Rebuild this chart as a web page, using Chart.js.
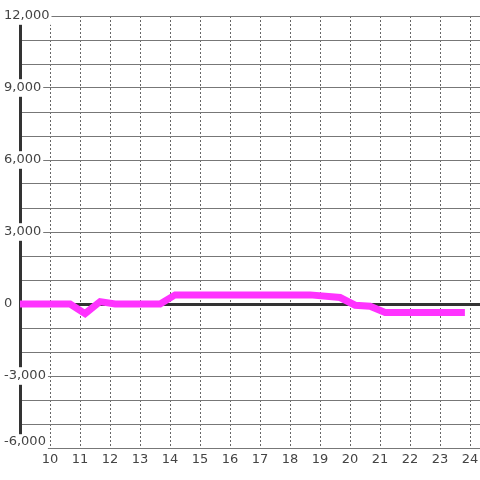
<!DOCTYPE html>
<html>
<head>
<meta charset="utf-8">
<style>
  html, body { margin: 0; padding: 0; background: #ffffff; }
  #wrap { width: 480px; height: 480px; }
</style>
<script src="https://cdn.jsdelivr.net/npm/chart.js@4/dist/chart.umd.min.js"></script>
</head>
<body>
<div id="wrap"><canvas id="c" width="480" height="480"></canvas></div>
<script>
// Data
const hours  = [8.83, 10.67, 11.17, 11.67, 12.17, 13.67, 14.17, 18.67, 19.67, 20.17, 20.67, 21.17, 23.83];
const values = [0,    0,     -400,  100,   0,     0,     380,   380,   270,   -50,   -90,   -350,  -350];
const xTickLabels = [10, 11, 12, 13, 14, 15, 16, 17, 18, 19, 20, 21, 22, 23, 24];
const yLabelValues = [-3000, 0, 3000, 6000, 9000, 12000];   // main axis labels
const yBottomLabel = -6000;                                  // bottom label, drawn a bit higher

const points = hours.map((h, i) => ({ x: h, y: values[i] }));

Chart.defaults.font.family = "'DejaVu Sans', sans-serif";
Chart.defaults.font.size = 13;
Chart.defaults.color = '#444444';

const fmt = (v) => v.toLocaleString('en-US');
const isLabel = (ctx, list) => !!(ctx.tick && list.includes(ctx.tick.value));

new Chart(document.getElementById('c'), {
  type: 'line',
  data: {
    datasets: [{
      data: points,
      borderColor: '#ff33ff',
      borderWidth: 7,
      pointRadius: 0,
      tension: 0,
      fill: false
    }]
  },
  options: {
    responsive: false,
    animation: false,
    devicePixelRatio: 1,
    layout: { autoPadding: false, padding: { left: 4, top: 16, right: 0, bottom: 8 } },
    plugins: { legend: { display: false }, tooltip: { enabled: false } },
    scales: {
      x: {
        type: 'linear',
        min: 9,
        max: 24.3333,
        afterFit: (s) => { s.height = 24; s.paddingLeft = 0; s.paddingRight = 0; },
        border: { display: false, dash: [2, 2] },
        grid: { color: '#666666', lineWidth: 1, drawTicks: false, borderDash: [2, 2] },
        ticks: {
          stepSize: 1,
          includeBounds: false,
          autoSkip: false,
          maxRotation: 0,
          padding: 4,
          color: '#444444',
          callback: (v) => xTickLabels.includes(v) ? String(v) : ''
        }
      },
      y: {
        type: 'linear',
        position: 'left',
        weight: 0,
        min: -6000,
        max: 12000,
        afterFit: (s) => { s.width = 16; s.paddingTop = 0; s.paddingBottom = 0; },
        border: { display: true, color: '#333333', width: 3 },
        grid: {
          drawTicks: false,
          color: (ctx) => (ctx.tick && ctx.tick.value === 0) ? '#333333' : '#777777',
          lineWidth: (ctx) => (ctx.tick && ctx.tick.value === 0) ? 3 : 1
        },
        ticks: {
          stepSize: 1000,
          autoSkip: false,
          mirror: true,
          crossAlign: 'near',
          padding: -16,
          color: '#444444',
          showLabelBackdrop: (ctx) => isLabel(ctx, yLabelValues),
          backdropColor: (ctx) => isLabel(ctx, yLabelValues) ? '#ffffff' : 'rgba(0,0,0,0)',
          backdropPadding: { top: 1, bottom: 1, left: 2, right: 2 },
          callback: (v) => yLabelValues.includes(v) ? fmt(v) : ''
        }
      },
      yBottom: {
        type: 'linear',
        position: 'left',
        weight: 5,
        display: true,
        min: -6000,
        max: 12000,
        afterFit: (s) => { s.width = 0; s.paddingTop = 0; s.paddingBottom = 0; },
        border: { display: false },
        grid: { display: false, drawTicks: false },
        ticks: {
          z: 1,
          stepSize: 1000,
          autoSkip: false,
          mirror: true,
          crossAlign: 'near',
          padding: 0,
          labelOffset: -6,
          color: '#444444',
          showLabelBackdrop: (ctx) => isLabel(ctx, [yBottomLabel]),
          backdropColor: (ctx) => isLabel(ctx, [yBottomLabel]) ? '#ffffff' : 'rgba(0,0,0,0)',
          backdropPadding: { top: 0, bottom: 0, left: 2, right: 2 },
          callback: (v) => v === yBottomLabel ? fmt(v) : ''
        }
      }
    }
  }
});
</script>
</body>
</html>
